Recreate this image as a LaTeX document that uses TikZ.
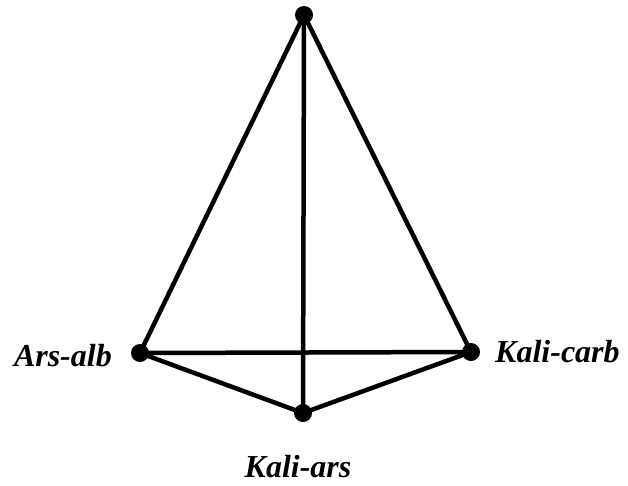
\documentclass[tikz,border=0pt]{standalone}
\usepackage{fontspec}
\setmainfont{Liberation Serif}
\begin{document}
\begin{tikzpicture}[x=1pt,y=-1pt,
  edge/.style={line width=4.5pt, line cap=round},
  vtx/.style={circle, fill=black, inner sep=0pt, minimum size=18pt},
  lbl/.style={font=\fontsize{32}{36}\selectfont\bfseries\itshape, inner sep=0pt}]
\useasboundingbox (0,0) rectangle (628,485);
\node[vtx] (t) at (304,15) {};
\node[vtx] (l) at (140,353) {};
\node[vtx] (r) at (471,352) {};
\node[vtx] (b) at (303,413) {};
\draw[edge] (t.center) -- (l.center);
\draw[edge] (t.center) -- (r.center);
\draw[edge] (t.center) -- (b.center);
\draw[edge] (l.center) -- (r.center);
\draw[edge] (l.center) -- (b.center);
\draw[edge] (r.center) -- (b.center);
\node[lbl, anchor=east] (la) at (112,356) {Ars-alb};
\node[lbl, anchor=west] (ra) at (495,352) {Kali-carb};
\node[lbl] (ba) at (298,467) {Kali-ars};
\end{tikzpicture}
\end{document}
